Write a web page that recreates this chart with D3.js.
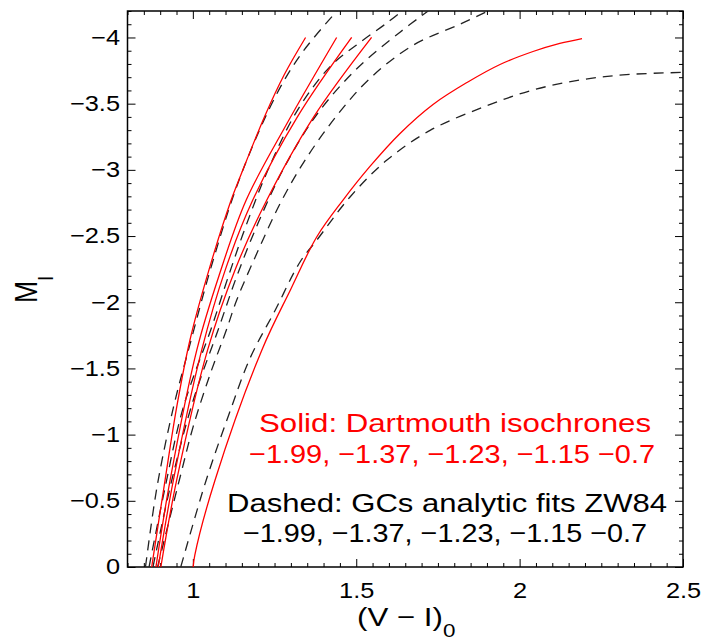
<!DOCTYPE html>
<html><head><meta charset="utf-8">
<script src="https://cdn.jsdelivr.net/npm/d3@7"></script>
<style>body{margin:0;background:#fff}</style>
</head><body><svg id="c" width="708" height="642"></svg>
<script>
// ---- data ----
const xTickValues = [1, 1.5, 2, 2.5];
const yTickValues = [0, -0.5, -1, -1.5, -2, -2.5, -3, -3.5, -4];
const metallicityLabel = "\u22121.99, \u22121.37, \u22121.23, \u22121.15 \u22120.7";
const solidLegend = "Solid: Dartmouth isochrones";
const dashedLegend = "Dashed: GCs analytic fits ZW84";

// Dartmouth isochrones (solid red): [(V-I)0, M_I]
const iso_m199 = [[0.874,0],[0.915,-0.657],[0.95,-1.2],[0.991,-1.713],[1.05,-2.25],[1.117,-2.77],[1.149,-2.974],[1.221,-3.411],[1.28,-3.72],[1.345,-4.0]];
const iso_m137 = [[0.887,0],[0.93,-0.65],[1.012,-1.638],[1.08,-2.2],[1.163,-2.77],[1.288,-3.35],[1.44,-4.0]];
const iso_m123 = [[0.894,0],[0.94,-0.65],[1.027,-1.638],[1.10,-2.25],[1.183,-2.77],[1.32,-3.4],[1.486,-4.0]];
const iso_m115 = [[0.902,0],[0.95,-0.65],[1.045,-1.638],[1.13,-2.25],[1.226,-2.77],[1.37,-3.4],[1.547,-4.0]];
const iso_m070 = [[1.001,0],[1.006,-0.09],[1.068,-0.657],[1.211,-1.638],[1.30,-2.1],[1.379,-2.493],[1.459,-2.77],[1.542,-3.026],[1.634,-3.275],[1.735,-3.494],[1.839,-3.66],[1.94,-3.796],[2.041,-3.894],[2.123,-3.955],[2.191,-3.992]];

// ZW84 analytic fits (dashed black)
const fit_m199 = [[0.855,0],[0.89,-0.6],[0.94,-1.2],[0.991,-1.68],[1.06,-2.3],[1.144,-2.94],[1.257,-3.575],[1.337,-3.894],[1.441,-4.2]];
const fit_m137 = [[0.866,0],[0.915,-0.6],[0.97,-1.2],[1.058,-1.814],[1.108,-2.19],[1.165,-2.594],[1.23,-3.0],[1.32,-3.45],[1.42,-3.78],[1.51,-3.96],[1.594,-4.11],[1.64,-4.2]];
const fit_m123 = [[0.878,0],[0.935,-0.65],[1.0,-1.25],[1.08,-1.81],[1.135,-2.2],[1.2,-2.6],[1.28,-3.02],[1.38,-3.42],[1.5,-3.76],[1.634,-4.04],[1.72,-4.2]];
const fit_m115 = [[0.892,0],[0.961,-0.68],[1.001,-1.06],[1.052,-1.45],[1.104,-1.80],[1.134,-2.015],[1.2,-2.392],[1.267,-2.745],[1.343,-3.072],[1.441,-3.411],[1.542,-3.691],[1.673,-3.94],[1.823,-4.106],[1.903,-4.2]];
const fit_m070 = [[0.963,0],[1.04,-0.65],[1.11,-1.15],[1.175,-1.577],[1.252,-1.94],[1.328,-2.304],[1.379,-2.468],[1.481,-2.795],[1.593,-3.072],[1.726,-3.298],[1.889,-3.474],[2.042,-3.604],[2.195,-3.683],[2.338,-3.721],[2.5,-3.736]];

const isochrones = [iso_m199, iso_m137, iso_m123, iso_m115, iso_m070];
const fits = [fit_m199, fit_m137, fit_m123, fit_m115, fit_m070];

// ---- layout ----
const L = 127.5, R = 683, T = 11, B = 567;
const FONT = "'Liberation Sans', Arial, Helvetica, sans-serif";
const SX = 1.18;

const svg = d3.select("#c");
const x = d3.scaleLinear().domain([0.8, 2.5]).range([L, R]);
const y = d3.scaleLinear().domain([0, -4.2]).range([B, T]);

svg.append("defs").append("clipPath").attr("id", "clip")
  .append("rect").attr("x", L).attr("y", T).attr("width", R - L).attr("height", B - T);

const minorX = d3.range(0.8, 2.5001, 0.05).map(v => +v.toFixed(2)).filter(v => !xTickValues.includes(v));
const minorY = d3.range(0, -4.2001, -0.1).map(v => +v.toFixed(1)).filter(v => !yTickValues.includes(v));

const fmtY = d => d === 0 ? "0" : "\u2212" + Math.abs(d);

function styleAxis(g) {
  g.select(".domain").remove();
  g.selectAll("line").attr("stroke", "#000").attr("stroke-width", 1);
  g.attr("font-family", FONT).attr("font-size", 21.5);
  g.selectAll("text").attr("fill", "#000");
}

// bottom
svg.append("g").attr("transform", `translate(0,${B})`)
  .call(d3.axisBottom(x).tickValues(minorX).tickSize(-4).tickFormat("")).call(styleAxis);
const gb = svg.append("g").attr("transform", `translate(0,${B})`)
  .call(d3.axisBottom(x).tickValues(xTickValues).tickSize(-8).tickPadding(16).tickFormat(d => String(d)))
  .call(styleAxis);
gb.selectAll("text").attr("transform", `scale(${SX},1)`);
// top
svg.append("g").attr("transform", `translate(0,${T})`)
  .call(d3.axisTop(x).tickValues(minorX).tickSize(-4).tickFormat("")).call(styleAxis);
svg.append("g").attr("transform", `translate(0,${T})`)
  .call(d3.axisTop(x).tickValues(xTickValues).tickSize(-8).tickFormat("")).call(styleAxis);
// left
svg.append("g").attr("transform", `translate(${L},0)`)
  .call(d3.axisLeft(y).tickValues(minorY).tickSize(-4).tickFormat("")).call(styleAxis);
const gl = svg.append("g").attr("transform", `translate(${L},0)`)
  .call(d3.axisLeft(y).tickValues(yTickValues).tickSize(-8).tickPadding(7.5).tickFormat(fmtY))
  .call(styleAxis);
gl.selectAll("text").attr("transform", `translate(-7.5,0) scale(${SX},1) translate(7.5,0)`);
// right
svg.append("g").attr("transform", `translate(${R},0)`)
  .call(d3.axisRight(y).tickValues(minorY).tickSize(-4).tickFormat("")).call(styleAxis);
svg.append("g").attr("transform", `translate(${R},0)`)
  .call(d3.axisRight(y).tickValues(yTickValues).tickSize(-8).tickFormat("")).call(styleAxis);

// frame
svg.append("rect").attr("x", L).attr("y", T).attr("width", R - L).attr("height", B - T)
  .attr("fill", "none").attr("stroke", "#000").attr("stroke-width", 1.5);

// curves
const line = d3.line().x(d => x(d[0])).y(d => y(d[1])).curve(d3.curveCatmullRom.alpha(0.5));
const plot = svg.append("g").attr("clip-path", "url(#clip)");
plot.selectAll("path.fit").data(fits).join("path").attr("class", "fit")
  .attr("d", line).attr("fill", "none").attr("stroke", "#222").attr("stroke-width", 1.3)
  .attr("stroke-dasharray", "10,7");
plot.selectAll("path.iso").data(isochrones).join("path").attr("class", "iso")
  .attr("d", line).attr("fill", "none").attr("stroke", "#ff0000").attr("stroke-width", 1.3);

// legend text
const legend = [
  {t: solidLegend, x0: 259, w: 392, yb: 432, c: "#ff0000"},
  {t: metallicityLabel, x0: 249, w: 406, yb: 463, c: "#ff0000"},
  {t: dashedLegend, x0: 227, w: 440, yb: 512, c: "#000"},
  {t: metallicityLabel, x0: 243, w: 404, yb: 542, c: "#000"}
];
svg.selectAll("text.leg").data(legend).join("text").attr("class", "leg")
  .attr("x", d => d.x0).attr("y", d => d.yb).attr("fill", d => d.c)
  .attr("font-family", FONT).attr("font-size", 26.5)
  .attr("textLength", d => d.w).attr("lengthAdjust", "spacingAndGlyphs")
  .text(d => d.t);

// x title
const xt = svg.append("text").attr("x", 357).attr("y", 626)
  .attr("font-family", FONT).attr("font-size", 26.5).attr("fill", "#000")
  .attr("transform", `translate(357,0) scale(${SX},1) translate(-357,0)`);
xt.append("tspan").text("(V \u2212 I)");
xt.append("tspan").attr("font-size", 19).attr("dy", 11).text("0");

// y title
const yt = svg.append("text").attr("x", 0).attr("y", 0)
  .attr("font-family", FONT).attr("font-size", 26.5).attr("fill", "#000")
  .attr("transform", `translate(37,303) scale(${SX},1) rotate(-90)`);
yt.append("tspan").text("M");
yt.append("tspan").attr("font-size", 19).attr("dy", 13.6).text("I");
</script></body></html>
